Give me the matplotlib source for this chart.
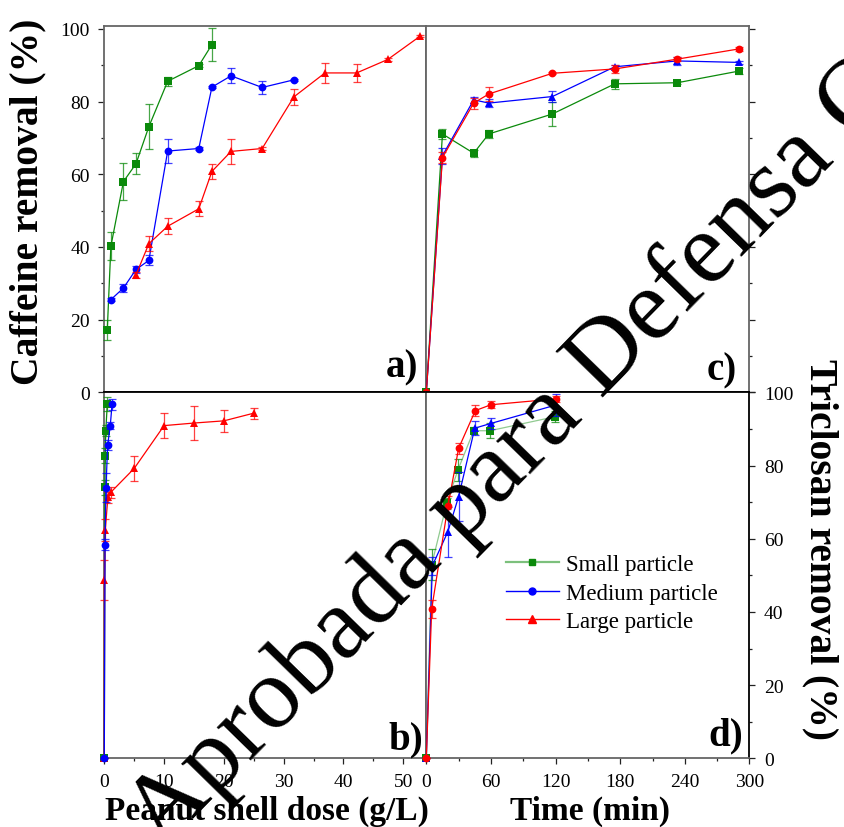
import matplotlib
matplotlib.use("Agg")
import matplotlib.pyplot as plt
from matplotlib.ticker import MultipleLocator
from matplotlib.lines import Line2D

plt.rcParams['font.family'] = ['Liberation Serif', 'DejaVu Serif']

# ---------------- data ----------------
# (a) caffeine removal vs peanut shell dose
dose_a_small = [0.5, 1.1, 3.2, 5.3, 7.45, 10.6, 15.8, 18.0]
caf_a_small = [17.2, 40.2, 58.0, 62.9, 73.1, 85.6, 89.9, 95.7]
err_a_small = [2.7, 3.9, 5.0, 2.9, 6.2, 1.2, 0.5, 4.5]
dose_a_medium = [1.1, 3.2, 5.3, 7.45, 10.6, 15.8, 18.0, 21.2, 26.4, 31.7]
caf_a_medium = [25.5, 28.7, 33.8, 36.3, 66.4, 67.1, 84.0, 87.1, 83.9, 86.0]
err_a_medium = [0.5, 1.2, 1.0, 1.4, 3.3, 0.3, 0.3, 2.1, 1.8, 0.3]
dose_a_large = [5.3, 7.45, 10.6, 15.8, 18.0, 21.2, 26.4, 31.7, 36.9, 42.2, 47.4, 52.8]
caf_a_large = [32.3, 40.9, 45.7, 50.5, 60.8, 66.3, 67.1, 81.3, 87.9, 87.9, 91.6, 98.0]
err_a_large = [0.8, 2.1, 2.2, 2.1, 2.1, 3.5, 0.3, 2.3, 2.7, 2.4, 0.5, 0.3]

# (b) triclosan removal vs peanut shell dose
dose_b_small = [0, 0.1, 0.15, 0.25, 0.5]
tri_b_small = [0, 74.0, 82.7, 89.5, 96.8]
err_b_small = [0, 2.0, 2.0, 1.5, 2.0]
dose_b_medium = [0, 0.12, 0.28, 0.56, 1.0, 1.3]
tri_b_medium = [0, 58.4, 73.9, 85.6, 90.9, 96.8]
err_b_medium = [0, 1.5, 4.0, 1.5, 1.0, 1.5]
dose_b_large = [0, 0.03, 0.17, 0.6, 1.1, 5, 10, 15, 20, 25]
tri_b_large = [0, 48.7, 62.5, 71.3, 72.7, 79.2, 90.9, 91.6, 92.2, 94.3]
err_b_large = [0, 5.4, 3.0, 1.5, 1.5, 3.3, 3.5, 4.6, 3.0, 1.5]

# (c) caffeine removal vs time
t_c = [0, 15, 44, 58, 117, 175, 233, 290]
caf_c_small = [0, 71.1, 65.8, 71.1, 76.6, 84.9, 85.2, 88.4]
err_c_small = [0, 1.4, 1.0, 1.0, 3.2, 1.3, 0.4, 0.8]
caf_c_medium = [0, 65.1, 80.5, 79.6, 81.4, 89.6, 91.2, 90.8]
err_c_medium = [0, 2.2, 0.8, 1.0, 1.5, 0.4, 1.0, 0.4]
caf_c_large = [0, 64.6, 79.6, 82.1, 87.8, 89.0, 91.7, 94.5]
err_c_large = [0, 1.5, 1.5, 1.8, 0.3, 1.0, 0.6, 0.5]

# (d) triclosan removal vs time
t_d_small = [0, 5, 19, 29.5, 44, 59, 119]
tri_d_small = [0, 52.9, 69.7, 78.9, 89.5, 89.5, 93.3]
err_d_small = [0, 4.3, 1.5, 3.0, 1.0, 2.0, 1.5]
t_d_medium = [0, 5.6, 20, 30, 45, 60, 120]
tri_d_medium = [0, 52.6, 61.9, 71.5, 90.2, 91.5, 96.5]
err_d_medium = [0, 2.5, 6.8, 6.8, 2.0, 1.5, 3.0]
t_d_large = [0, 5, 20, 30, 45.5, 60, 120]
tri_d_large = [0, 40.8, 68.8, 84.7, 95.0, 96.6, 98.2]
err_d_large = [0, 2.4, 3.0, 1.5, 1.5, 1.0, 0.8]

labels = ['Small particle', 'Medium particle', 'Large particle']
GREEN = '#0b8a0b'
BLUE = '#0000ff'
RED = '#ff0000'

# ---------------- figure ----------------
W, H = 845, 828
fig = plt.figure(figsize=(W / 100, H / 100), dpi=100)

def rect(x0, y0, x1, y1):
    return [x0 / W, 1 - y1 / H, (x1 - x0) / W, (y1 - y0) / H]

xl0, xm, xr1 = 104.3, 426.3, 749.5
yt0, ym, yb1 = 26.7, 393.3, 759.3
ax_a = fig.add_axes(rect(xl0, yt0, xm, ym))
ax_c = fig.add_axes(rect(xm, yt0, xr1, ym))
ax_b = fig.add_axes(rect(xl0, ym, xm, yb1))
ax_d = fig.add_axes(rect(xm, ym, xr1, yb1))


def series(ax, x, y, e, color, marker, ms, z, line_alpha=1.0):
    ax.errorbar(x, y, yerr=e, fmt='none', ecolor=color, elinewidth=0.9,
                capsize=2.6, capthick=0.9, alpha=0.75, zorder=z, clip_on=False)
    ax.plot(x, y, '-', color=color, lw=0.9, alpha=line_alpha, zorder=z + 0.1,
            clip_on=False)
    ax.plot(x, y, linestyle='none', marker=marker, color=color, ms=ms,
            markeredgewidth=0, zorder=z + 0.2, clip_on=False)


# (a)
series(ax_a, dose_a_small, caf_a_small, err_a_small, GREEN, 's', 5.2, 3)
series(ax_a, dose_a_medium, caf_a_medium, err_a_medium, BLUE, 'o', 5.6, 4)
series(ax_a, dose_a_large, caf_a_large, err_a_large, RED, '^', 6.2, 5)
# (b)
series(ax_b, dose_b_small, tri_b_small, err_b_small, GREEN, 's', 5.2, 3)
series(ax_b, dose_b_large, tri_b_large, err_b_large, RED, '^', 6.2, 4)
series(ax_b, dose_b_medium, tri_b_medium, err_b_medium, BLUE, 'o', 5.6, 5)
# (c)
series(ax_c, t_c, caf_c_small, err_c_small, GREEN, 's', 5.2, 3)
series(ax_c, t_c, caf_c_medium, err_c_medium, BLUE, '^', 6.2, 4)
series(ax_c, t_c, caf_c_large, err_c_large, RED, 'o', 5.6, 5)
# (d)
series(ax_d, t_d_small, tri_d_small, err_d_small, GREEN, 's', 5.2, 3, line_alpha=0.45)
series(ax_d, t_d_medium, tri_d_medium, err_d_medium, BLUE, '^', 6.2, 4)
series(ax_d, t_d_large, tri_d_large, err_d_large, RED, 'o', 5.6, 5)

for ax in (ax_a, ax_b):
    ax.set_xlim(0, 53.85)
for ax in (ax_c, ax_d):
    ax.set_xlim(0, 300)
for ax in (ax_a, ax_c):
    ax.set_ylim(0, 100.9)
for ax in (ax_b, ax_d):
    ax.set_ylim(0, 100)

SPINE = '#666666'
for ax in (ax_a, ax_b, ax_c, ax_d):
    for s in ax.spines.values():
        s.set_color(SPINE)
        s.set_linewidth(1.3)
    ax.tick_params(which='both', direction='out', colors='#222222',
                   labelsize=14, pad=6, width=0.9, labelcolor='black')
    ax.tick_params(which='major', length=4.5)
    ax.tick_params(which='minor', length=2.5)

for ax in (ax_a, ax_c):
    ax.spines['bottom'].set_color('black')
for ax in (ax_b, ax_d):
    ax.spines['top'].set_color('black')
ax_d.spines['right'].set_color('black')

# tick configuration
ax_a.yaxis.set_major_locator(MultipleLocator(20))
ax_a.yaxis.set_minor_locator(MultipleLocator(10))
ax_a.tick_params(axis='x', which='both', bottom=False, labelbottom=False)

ax_c.tick_params(axis='x', which='both', bottom=False, labelbottom=False)
ax_c.yaxis.set_major_locator(MultipleLocator(20))
ax_c.yaxis.set_minor_locator(MultipleLocator(10))
ax_c.tick_params(axis='y', which='both', left=False, labelleft=False,
                 right=True, labelright=False)

ax_b.tick_params(axis='y', which='both', left=False, labelleft=False)
ax_b.xaxis.set_major_locator(MultipleLocator(10))
ax_b.xaxis.set_minor_locator(MultipleLocator(5))

ax_d.xaxis.set_major_locator(MultipleLocator(60))
ax_d.xaxis.set_minor_locator(MultipleLocator(30))
ax_d.yaxis.set_major_locator(MultipleLocator(20))
ax_d.yaxis.set_minor_locator(MultipleLocator(10))
ax_d.tick_params(axis='y', which='both', left=False, labelleft=False,
                 right=True, labelright=True)

# panel labels
for ax, lab, x, y in ((ax_a, 'a)', 0.974, 0.044), (ax_b, 'b)', 0.99, 0.027),
                      (ax_c, 'c)', 0.962, 0.036), (ax_d, 'd)', 0.981, 0.039)):
    ax.text(x, y, lab, transform=ax.transAxes, ha='right', va='baseline',
            fontsize=28, fontweight='bold', zorder=10)

# axis labels
fig.text(28 / W, 1 - 202 / H, 'Caffeine removal (%)', rotation=90,
         ha='center', va='center', fontsize=28.5, fontweight='bold')
fig.text(820 / W, 1 - 550 / H, 'Triclosan removal (%)', rotation=-90,
         ha='center', va='center', fontsize=28.5, fontweight='bold')
fig.text(266.5 / W, 1 - 820 / H, 'Peanut shell dose (g/L)', ha='center',
         va='baseline', fontsize=24, fontweight='bold')
fig.text(590 / W, 1 - 820 / H, 'Time (min)', ha='center',
         va='baseline', fontsize=24, fontweight='bold')

# legend
handles = [
    Line2D([], [], color='#7cc07c', lw=1.6, marker='s', ms=4.5,
           markerfacecolor=GREEN, markeredgecolor=GREEN),
    Line2D([], [], color=BLUE, lw=1.0, marker='o', ms=5),
    Line2D([], [], color=RED, lw=1.0, marker='^', ms=5.5),
]
fig.legend(handles, labels, loc='upper left',
           bbox_to_anchor=(506 / W, 1 - 555 / H), bbox_transform=fig.transFigure,
           frameon=False, fontsize=16.5, handlelength=2.3, handletextpad=0.3,
           labelspacing=0.33, borderpad=0, borderaxespad=0)

# watermark
fig.text(162 / W, 1 - 851 / H, 'Aprobada para Defensa Oral', rotation=45.7,
         rotation_mode='anchor', ha='left', va='baseline', fontsize=73.5,
         color='black', zorder=20)

fig.savefig('out.png', dpi=100)
